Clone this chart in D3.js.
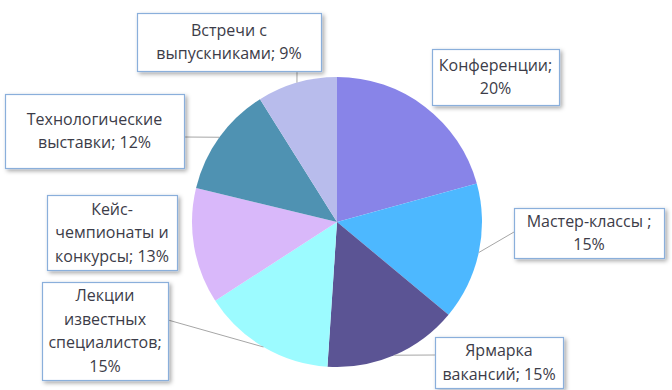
<!DOCTYPE html>
<html>
<head>
<meta charset="utf-8">
<script src="https://cdn.jsdelivr.net/npm/d3@7"></script>
<style>
  html, body { margin: 0; padding: 0; background: #ffffff; }
  svg { display: block; }
</style>
</head>
<body>
<div id="chart"></div>
<script>
// ---- data ----
const categories = [
  "Конференции",
  "Мастер-классы ",
  "Ярмарка вакансий",
  "Лекции известных специалистов",
  "Кейс-чемпионаты и конкурсы",
  "Технологические выставки",
  "Встречи с выпускниками"
];
// slice shares
const shares = [20.7, 15.3, 15.0, 14.8, 12.9, 12.3, 8.9];
// percentages printed in the labels
const percentLabels = ["20%", "15%", "15%", "15%", "13%", "12%", "9%"];
// label line breaks as displayed
const labelLines = [
  ["Конференции;", "20%"],
  ["Мастер-классы ;", "15%"],
  ["Ярмарка", "вакансий; 15%"],
  ["Лекции", "известных", "специалистов;", "15%"],
  ["Кейс-", "чемпионаты и", "конкурсы; 13%"],
  ["Технологические", "выставки; 12%"],
  ["Встречи с", "выпускниками; 9%"]
];
const colors = ["#8884E8", "#4DB8FF", "#5B5494", "#9CFBFF", "#D9B8FA", "#4F92B2", "#B8BCEC"];

// ---- layout (label boxes and leader attachment points) ----
const boxes = [
  {x: 432, y: 49,  w: 127, h: 56, attach: null},
  {x: 514, y: 208, w: 150, h: 50, attach: [514, 232]},
  {x: 435, y: 337, w: 128, h: 51, attach: [435, 355]},
  {x: 42,  y: 282, w: 126, h: 98, attach: [168, 320]},
  {x: 47,  y: 195, w: 130, h: 75, attach: null},
  {x: 5,   y: 94,  w: 179, h: 74, attach: [184, 137]},
  {x: 137, y: 13,  w: 184, h: 58, attach: [297, 71]}
];

const W = 672, H = 390;
const cx = 337, cy = 222, R = 145;
const lineH = 23.5;

const svg = d3.select("#chart").append("svg")
  .attr("width", W).attr("height", H)
  .style("font-family", "'Open Sans', 'Noto Sans', sans-serif");

const defs = svg.append("defs");
const f = defs.append("filter").attr("id", "shadow")
  .attr("x", "-20%").attr("y", "-20%").attr("width", "140%").attr("height", "140%");
f.append("feDropShadow").attr("dx", 2).attr("dy", 2).attr("stdDeviation", 2)
  .attr("flood-color", "#000").attr("flood-opacity", 0.35);

const pie = d3.pie().sort(null).value(d => d);
const arcs = pie(shares);
const arc = d3.arc().innerRadius(0).outerRadius(R);

const g = svg.append("g").attr("transform", `translate(${cx},${cy})`);
g.selectAll("path.slice").data(arcs).join("path")
  .attr("class", "slice")
  .attr("d", arc)
  .attr("fill", (d, i) => colors[i]);

// leader lines
arcs.forEach((d, i) => {
  const b = boxes[i];
  if (!b.attach) return;
  const mid = (d.startAngle + d.endAngle) / 2;
  const px = cx + R * Math.sin(mid), py = cy - R * Math.cos(mid);
  svg.append("line")
    .attr("x1", b.attach[0]).attr("y1", b.attach[1])
    .attr("x2", px).attr("y2", py)
    .attr("stroke", "#a6a6a6").attr("stroke-width", 1);
});

// label boxes
const lg = svg.append("g");
arcs.forEach((d, i) => {
  const b = boxes[i];
  lg.append("rect")
    .attr("x", b.x + 0.5).attr("y", b.y + 0.5)
    .attr("width", b.w).attr("height", b.h)
    .attr("fill", "#ffffff")
    .attr("stroke", "#8aafdb").attr("stroke-width", 1.2)
    .attr("filter", "url(#shadow)");
  const lines = labelLines[i];
  const x0 = b.x + b.w / 2;
  const y0 = b.y + b.h / 2 - (lines.length - 1) * lineH / 2;
  const t = lg.append("text")
    .attr("text-anchor", "middle")
    .attr("fill", "#3c3c48")
    .attr("font-size", 16);
  lines.forEach((ln, k) => {
    t.append("tspan").attr("x", x0).attr("y", y0 + k * lineH)
      .attr("dy", "0.35em").text(ln);
  });
});
</script>
</body>
</html>
